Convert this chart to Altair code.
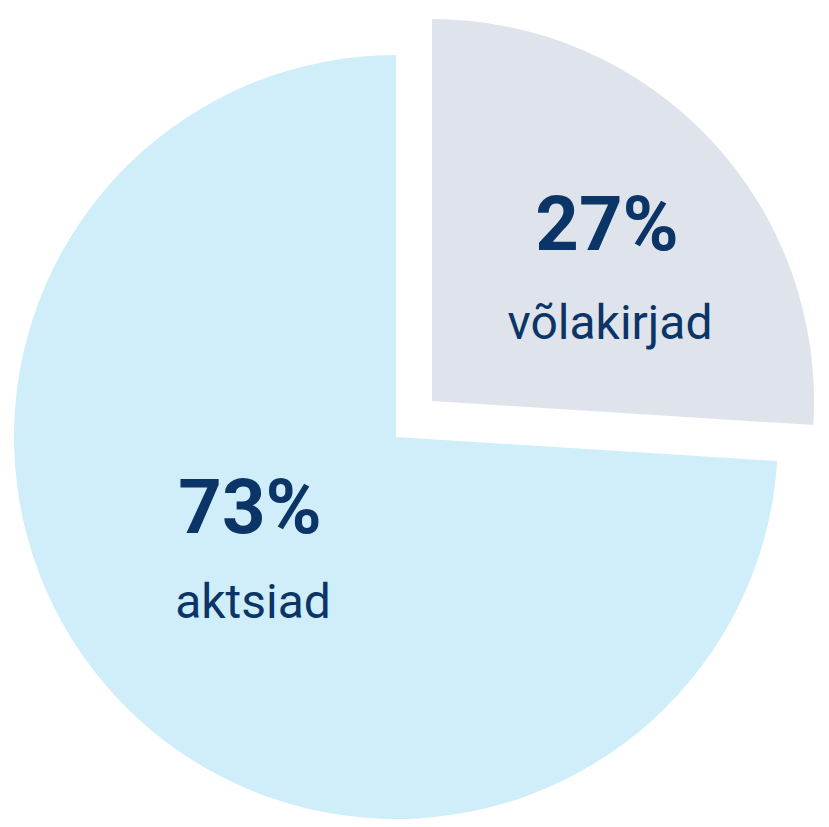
import altair as alt
import pandas as pd

categories = ["võlakirjad", "aktsiad"]
shares = [26, 74]          # slice sizes as drawn
pct_labels = ["27%", "73%"]
order_idx = [0, 1]

df = pd.DataFrame({"cat": categories, "share": shares, "pct": pct_labels, "idx": order_idx})

GREY = "#dfe4ec"
BLUE = "#d0eef9"
NAVY = "#0b3467"

base = alt.Chart(df).transform_window(
    cum="sum(share)", sort=[alt.SortField("idx")], frame=[None, 0]
).transform_joinaggregate(total="sum(share)").transform_calculate(
    t0="(datum.cum - datum.share) / datum.total",
    t1="datum.cum / datum.total",
)

theta_scale = alt.Scale(domain=[0, 1])

# per-slice layout: (arc centre x, y, pct label x, y, name label x, y)
layout = {
    "võlakirjad": (424, 393, 599, 242, 602, 331),
    "aktsiad": (388, 429, 242, 525, 245, 610),
}

layers = []
for cat, col in zip(categories, [GREY, BLUE]):
    cx, cy, px, py, nx, ny = layout[cat]
    sub = base.transform_filter(alt.datum.cat == cat)
    layers.append(sub.mark_arc(radius=382, color=col).encode(
        theta=alt.Theta("t0:Q", scale=theta_scale),
        theta2="t1:Q",
        x=alt.value(cx), y=alt.value(cy),
    ))
for cat in categories:
    cx, cy, px, py, nx, ny = layout[cat]
    sub = base.transform_filter(alt.datum.cat == cat)
    layers.append(sub.mark_text(font="Roboto", fontSize=76, fontWeight="bold", color=NAVY,
                                align="center", baseline="alphabetic").encode(
        text="pct:N", x=alt.value(px), y=alt.value(py)))
    layers.append(sub.mark_text(font="Roboto", fontSize=48, color=NAVY,
                                align="center", baseline="alphabetic").encode(
        text="cat:N", x=alt.value(nx), y=alt.value(ny)))

chart = alt.layer(*layers).properties(
    width=813, height=811, autosize=alt.AutoSizeParams(type="none"), padding=0
).configure_view(stroke=None)

chart.save("out.html", embed_options={"renderer": "svg", "actions": False})
